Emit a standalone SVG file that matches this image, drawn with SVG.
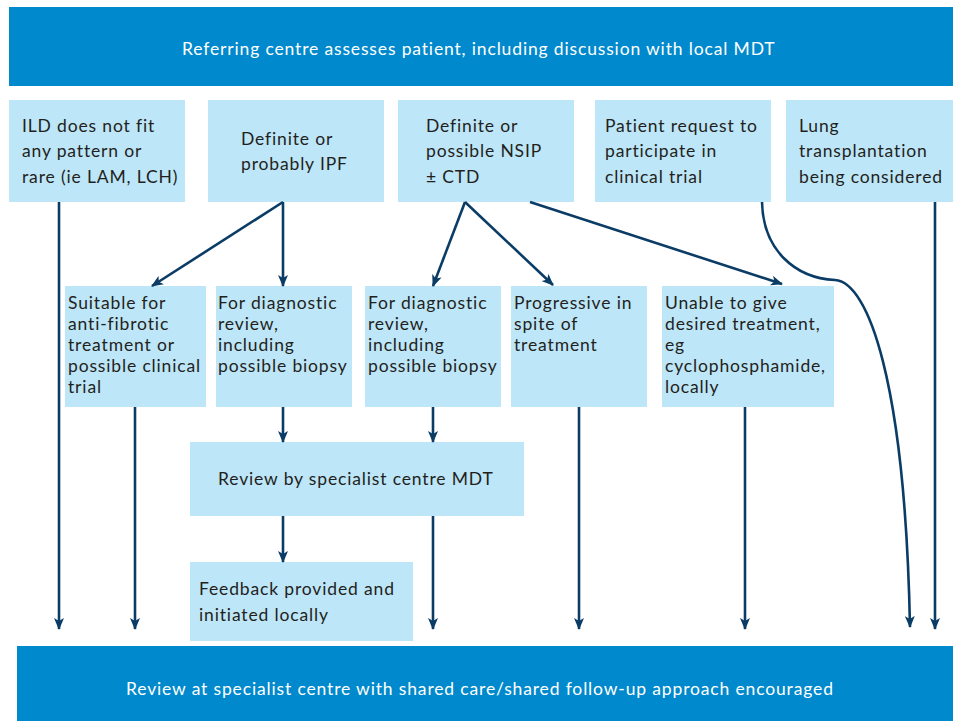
<svg xmlns="http://www.w3.org/2000/svg" width="953" height="721" viewBox="0 0 953 721">
<defs>
<style>
.banner{fill:#0089cc}
.box{fill:#bde6f8}
.t{font-family:Lato,"Open Sans",sans-serif;font-size:17.5px;letter-spacing:0.85px;fill:#231f20}
.tw{font-family:Lato,"Open Sans",sans-serif;font-size:17.5px;letter-spacing:0.85px;fill:#ffffff}
.c{fill:none;stroke:#0b3c66;stroke-width:2.6}
</style>
<marker id="ah" viewBox="0 0 12 10" refX="11" refY="5" markerWidth="12" markerHeight="10" markerUnits="userSpaceOnUse" orient="auto">
<path d="M0,0 L12,5 L0,10 L3,5 Z" fill="#0b3c66"/>
</marker>
</defs>
<rect width="953" height="721" fill="#ffffff"/>
<g id="top"><rect class="banner" x="9" y="7" width="944" height="79"/><text class="tw" x="182" y="55">Referring centre assesses patient, including discussion with local MDT</text></g>
<g id="n1"><rect class="box" x="9" y="100" width="176" height="102"/><text class="t" x="22" y="132">ILD does not fit</text><text class="t" x="22" y="157">any pattern or</text><text class="t" x="22" y="183">rare (ie LAM, LCH)</text></g>
<g id="n2"><rect class="box" x="208" y="100" width="176" height="102"/><text class="t" x="241" y="145">Definite or</text><text class="t" x="241" y="170">probably IPF</text></g>
<g id="n3"><rect class="box" x="398" y="100" width="176" height="102"/><text class="t" x="426" y="132">Definite or</text><text class="t" x="426" y="157">possible NSIP</text><text class="t" x="426" y="183">± CTD</text></g>
<g id="n4"><rect class="box" x="595" y="100" width="176" height="102"/><text class="t" x="605" y="132">Patient request to</text><text class="t" x="605" y="157">participate in</text><text class="t" x="605" y="183">clinical trial</text></g>
<g id="n5"><rect class="box" x="786" y="100" width="167" height="102"/><text class="t" x="799" y="132">Lung</text><text class="t" x="799" y="157">transplantation</text><text class="t" x="799" y="183">being considered</text></g>
<g id="a1"><rect class="box" x="65" y="286" width="141" height="121"/><text class="t" x="68" y="309">Suitable for</text><text class="t" x="68" y="330">anti-fibrotic</text><text class="t" x="68" y="351">treatment or</text><text class="t" x="68" y="372">possible clinical</text><text class="t" x="68" y="393">trial</text></g>
<g id="a2"><rect class="box" x="216" y="286" width="136" height="121"/><text class="t" x="218" y="309">For diagnostic</text><text class="t" x="218" y="330">review,</text><text class="t" x="218" y="351">including</text><text class="t" x="218" y="372">possible biopsy</text></g>
<g id="a3"><rect class="box" x="365" y="286" width="136" height="121"/><text class="t" x="368" y="309">For diagnostic</text><text class="t" x="368" y="330">review,</text><text class="t" x="368" y="351">including</text><text class="t" x="368" y="372">possible biopsy</text></g>
<g id="a4"><rect class="box" x="511" y="286" width="136" height="121"/><text class="t" x="514" y="309">Progressive in</text><text class="t" x="514" y="330">spite of</text><text class="t" x="514" y="351">treatment</text></g>
<g id="a5"><rect class="box" x="662" y="286" width="172" height="121"/><text class="t" x="665" y="309">Unable to give</text><text class="t" x="665" y="330">desired treatment,</text><text class="t" x="665" y="351">eg</text><text class="t" x="665" y="372">cyclophosphamide,</text><text class="t" x="665" y="393">locally</text></g>
<g id="review"><rect class="box" x="190" y="442" width="334" height="74"/><text class="t" x="218" y="485">Review by specialist centre MDT</text></g>
<g id="feedback"><rect class="box" x="190" y="562" width="223" height="79"/><text class="t" x="199" y="595">Feedback provided and</text><text class="t" x="199" y="621">initiated locally</text></g>
<g id="bottom"><rect class="banner" x="17" y="646" width="936" height="75"/><text class="tw" x="126" y="695">Review at specialist centre with shared care/shared follow-up approach encouraged</text></g>
<g id="connectors">
<path class="c" marker-end="url(#ah)" d="M59,202 V629"/>
<path class="c" marker-end="url(#ah)" d="M135,407 V629"/>
<path class="c" marker-end="url(#ah)" d="M283,202 L152,286"/>
<path class="c" marker-end="url(#ah)" d="M283,202 V286"/>
<path class="c" marker-end="url(#ah)" d="M465,202 L433,286"/>
<path class="c" marker-end="url(#ah)" d="M465,202 L553,285"/>
<path class="c" marker-end="url(#ah)" d="M530,202 L782,284"/>
<path class="c" marker-end="url(#ah)" d="M283,407 V442"/>
<path class="c" marker-end="url(#ah)" d="M433,407 V442"/>
<path class="c" marker-end="url(#ah)" d="M283,516 V562"/>
<path class="c" marker-end="url(#ah)" d="M433,516 V629"/>
<path class="c" marker-end="url(#ah)" d="M579,407 V629"/>
<path class="c" marker-end="url(#ah)" d="M745,407 V629"/>
<path class="c" marker-end="url(#ah)" d="M935,202 V629"/>
<path class="c" marker-end="url(#ah)" d="M762,202 C763,250 795,278 835,280 C868,282 905,380 910,627"/>
</g>
</svg>
